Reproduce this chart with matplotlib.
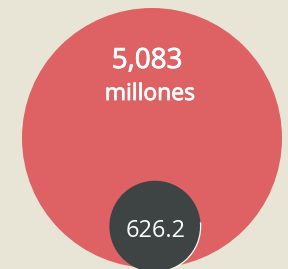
import numpy as np
import matplotlib
matplotlib.use("Agg")
import matplotlib.pyplot as plt
from matplotlib.patches import Circle, Arc
import matplotlib.patheffects as pe

values = [5083, 626.2]
value_labels = ["5,083", "626.2"]
unit_label = "millones"
colors = ["#DE6163", "#3D4443"]
bg = "#E8E4D6"

W, H = 288, 269
fig = plt.figure(figsize=(W / 100, H / 100), dpi=100)
fig.patch.set_facecolor(bg)
ax = fig.add_axes([0, 0, 1, 1])
ax.set_xlim(0, W)
ax.set_ylim(H, 0)
ax.set_aspect("equal")
ax.axis("off")
ax.set_facecolor(bg)

k = 130 / np.sqrt(values[0])
r_big = k * np.sqrt(values[0])
r_small = k * np.sqrt(values[1])
big_c = (152, 138)
small_c = (155, big_c[1] + r_big - r_small + 4)

ax.add_patch(Circle(big_c, r_big, facecolor=colors[0], edgecolor="none"))
ax.add_patch(Circle(small_c, r_small, facecolor=colors[1], edgecolor="none"))
ax.add_patch(Arc(small_c, 2 * r_small, 2 * r_small, theta1=-5, theta2=100,
                 color="white", lw=0.9))

font = ["Open Sans", "DejaVu Sans"]
medium = [pe.withStroke(linewidth=0.6, foreground="white")]
ax.text(147, 61, value_labels[0], color="white", fontsize=20, family=font,
        ha="center", va="center", path_effects=medium)
ax.text(150, 94, unit_label, color="white", fontsize=16.5, family=font,
        ha="center", va="center", path_effects=medium)
ax.text(156, 231, value_labels[1], color="white", fontsize=17, family=font,
        ha="center", va="center")

fig.savefig("out.png", dpi=100, facecolor=bg)
